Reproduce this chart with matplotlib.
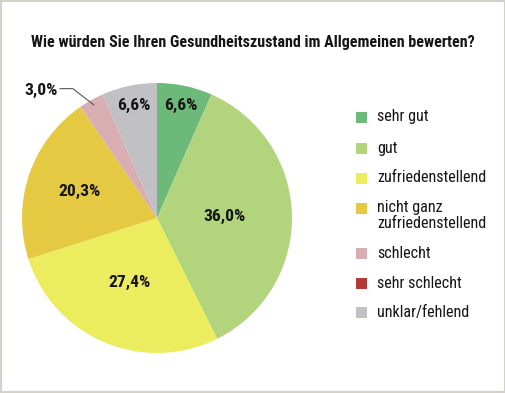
import matplotlib
matplotlib.use("Agg")
import matplotlib.pyplot as plt
from matplotlib.patches import Rectangle
import numpy as np
from matplotlib import font_manager

names = {f.name for f in font_manager.fontManager.ttflist}
fam = "Roboto Condensed" if "Roboto Condensed" in names else "DejaVu Sans"
plt.rcParams['font.family'] = [fam, 'DejaVu Sans']

title = "Wie würden Sie Ihren Gesundheitszustand im Allgemeinen bewerten?"
categories = ["sehr gut", "gut", "zufriedenstellend", "nicht ganz\nzufriedenstellend",
              "schlecht", "sehr schlecht", "unklar/fehlend"]
values = [6.6, 36.0, 27.4, 20.3, 3.0, 0.0, 6.6]
labels = ["6,6%", "36,0%", "27,4%", "20,3%", "3,0%", "", "6,6%"]
colors = ["#6db97a", "#b1d47c", "#ebec5e", "#e6c942", "#d9aeb3", "#b43a36", "#c0c0c5"]
label_r = [0.85, 0.50, 0.52, 0.61, None, None, 0.85]

W, H = 506, 393
fig = plt.figure(figsize=(W / 100, H / 100), dpi=100)
fig.patch.set_facecolor("white")
renderer = fig.canvas.get_renderer()


def fit_size(text, target_px, weight="normal", base=10):
    t = fig.text(0, 0, text, fontsize=base, fontweight=weight)
    w = t.get_window_extent(renderer).width
    t.remove()
    return base * target_px / w


cx, cy, R = 157, 218, 135
ax = fig.add_axes([(cx - R) / W, (H - cy - R) / H, 2 * R / W, 2 * R / H])
wedges, _ = ax.pie(values, colors=colors, startangle=90, counterclock=False,
                   wedgeprops=dict(edgecolor="none", linewidth=0))
ax.set_xlim(-1, 1)
ax.set_ylim(-1, 1)
ax.set_aspect("equal")
ax.axis("off")

pct_size = fit_size("36,0%", 42, "bold")
for w, lab, r in zip(wedges, labels, label_r):
    if not lab:
        continue
    mid = np.deg2rad((w.theta1 + w.theta2) / 2)
    if r is not None:
        ax.text(r * np.cos(mid), r * np.sin(mid), lab, ha="center", va="center",
                fontsize=pct_size, fontweight="bold", color="#151515")
    else:
        x0, y0 = 0.96 * np.cos(mid), 0.96 * np.sin(mid)
        x1, y1 = x0 - 0.155, y0 + 0.12
        x2 = x1 - 0.095
        ax.plot([x0, x1, x2], [y0, y1, y1], color="#555555", lw=0.8, clip_on=False)
        ax.text(x2 - 0.015, y1 - 0.01, lab, ha="right", va="center", fontsize=pct_size,
                fontweight="bold", color="#151515")

title_size = fit_size(title, 441, "bold")
fig.text(253 / W, 1 - 43 / H, title, ha="center", va="center", fontsize=title_size,
         fontweight="bold", color="#151515")

leg_size = fit_size("zufriedenstellend", 109)
ys = [117, 148, 178, 208, 253, 283, 312]
for cat, col, y in zip(categories, colors, ys):
    fig.patches.append(Rectangle((356 / W, 1 - (y + 5.5) / H), 11 / W, 11 / H,
                                 transform=fig.transFigure, facecolor=col,
                                 edgecolor="none"))
    lines = cat.split("\n")
    for i, line in enumerate(lines):
        fig.text(377 / W, 1 - (y + 16 * i) / H, line, ha="left", va="center",
                 fontsize=leg_size, color="#151515")

fig.patches.append(Rectangle((0, 0), 1, 1, transform=fig.transFigure, fill=False,
                             edgecolor="#d2d2ca", linewidth=3))

fig.savefig("out.png", dpi=100)
